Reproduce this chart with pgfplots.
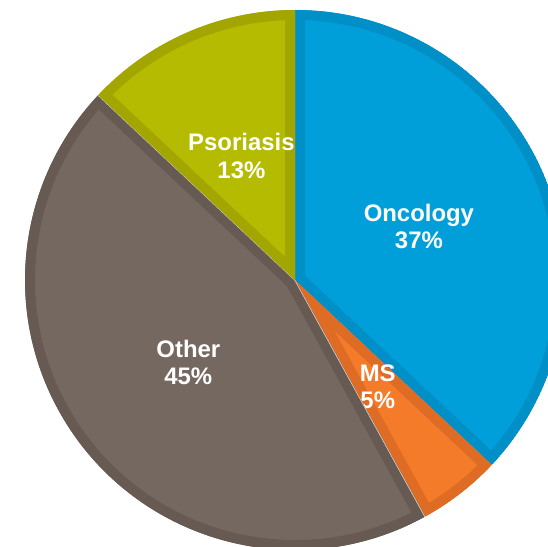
\documentclass[border=0pt]{standalone}
\usepackage{pgfplots}
\pgfplotsset{compat=1.18}
\usepackage{pgfplotstable}
\usepackage{fontspec}
\setmainfont{Liberation Sans}
\definecolor{onc}{HTML}{009FDA}
\definecolor{oncB}{HTML}{008FC6}
\definecolor{ms}{HTML}{F47B2A}
\definecolor{msB}{HTML}{DF6C24}
\definecolor{oth}{HTML}{756860}
\definecolor{othB}{HTML}{665A53}
\definecolor{pso}{HTML}{B4BB00}
\definecolor{psoB}{HTML}{A3A600}
\definecolor{sepc}{HTML}{D8D4D0}

\pgfplotstableread[col sep=comma]{
lab,value,fc,ec,sep
Oncology,37,onc,oncB,none
MS,5,ms,msB,none
Other,45,oth,othB,sepc
Psoriasis,13,pso,psoB,none
}\piedata

\tikzset{pielabel/.style={text=white,align=center,inner sep=0pt,
  font=\bfseries\fontsize{24}{27.5}\selectfont}}

\begin{document}
\begin{tikzpicture}
\begin{axis}[x=1bp,y=1bp,xmin=0,xmax=548,ymin=0,ymax=547,hide axis,clip=true]
\pgfplotstablegetrowsof{\piedata}
\pgfmathtruncatemacro{\nrows}{\pgfplotsretval-1}
\def\cx{295}\def\cy{267}\def\R{270}
\gdef\startang{90}
\pgfplotsforeachungrouped \i in {0,...,\nrows}{%
  \pgfplotstablegetelem{\i}{value}\of\piedata \let\val\pgfplotsretval
  \pgfplotstablegetelem{\i}{lab}\of\piedata \let\lab\pgfplotsretval
  \pgfplotstablegetelem{\i}{fc}\of\piedata \let\fc\pgfplotsretval
  \pgfplotstablegetelem{\i}{ec}\of\piedata \let\ec\pgfplotsretval
  \pgfplotstablegetelem{\i}{sep}\of\piedata \let\sepcol\pgfplotsretval
  \pgfmathsetmacro{\endang}{\startang-\val*3.6}%
  \pgfmathsetmacro{\midang}{(\startang+\endang)/2}%
  \pgfmathsetmacro{\lx}{\cx+0.5*\R*cos(\midang)}%
  \pgfmathsetmacro{\ly}{\cy+0.5*\R*sin(\midang)}%
  \edef\cmd{\noexpand\pgfplotsextra{%
    \noexpand\begin{scope}
    \noexpand\clip (axis cs:0,0) rectangle (axis cs:548,547);
    \noexpand\clip (axis cs:\cx,\cy) -- ++(\startang:\R bp) arc[start angle=\startang,end angle=\endang,radius=\R bp] -- cycle;
    \noexpand\fill[fill=\fc] (axis cs:\cx,\cy) -- ++(\startang:\R bp) arc[start angle=\startang,end angle=\endang,radius=\R bp] -- cycle;
    \noexpand\draw[draw=\ec,line width=20bp,line join=miter] (axis cs:\cx,\cy) -- ++(\startang:\R bp) arc[start angle=\startang,end angle=\endang,radius=\R bp] -- cycle;
    \noexpand\draw[draw=\sepcol,line width=1.2bp] (axis cs:\cx,\cy) -- ++(\startang:\R bp);
    \noexpand\draw[draw=\sepcol,line width=1.2bp] (axis cs:\cx,\cy) -- ++(\endang:\R bp);
    \noexpand\end{scope}
    \noexpand\node[pielabel] at (axis cs:\lx,\ly) {\lab\noexpand\\\val\noexpand\%};
  }}%
  \cmd
  \global\let\startang\endang
}
\end{axis}
\pgfresetboundingbox
\useasboundingbox (0,0) rectangle (548bp,547bp);
\end{tikzpicture}
\end{document}
